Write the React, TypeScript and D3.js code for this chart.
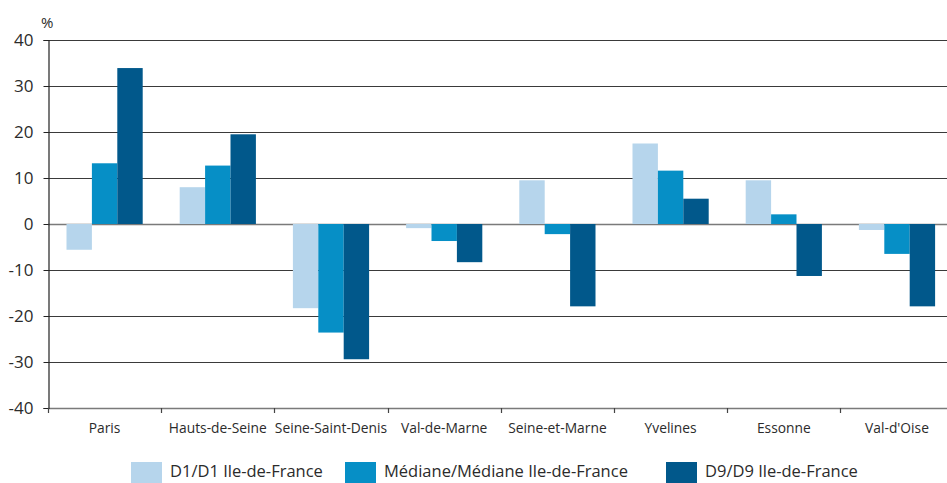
import { useEffect, useRef } from 'react';
import * as d3 from 'd3';

const categories = [
  'Paris',
  'Hauts-de-Seine',
  'Seine-Saint-Denis',
  'Val-de-Marne',
  'Seine-et-Marne',
  'Yvelines',
  'Essonne',
  "Val-d'Oise",
];
const seriesNames = ['D1/D1 Ile-de-France', 'Médiane/Médiane Ile-de-France', 'D9/D9 Ile-de-France'];
const d1Values = [-5.6, 8.0, -18.3, -0.9, 9.5, 17.5, 9.5, -1.3];
const medianValues = [13.2, 12.7, -23.6, -3.7, -2.2, 11.6, 2.1, -6.5];
const d9Values = [33.9, 19.5, -29.4, -8.3, -17.9, 5.5, -11.3, -17.9];
const yTicks = [-40, -30, -20, -10, 0, 10, 20, 30, 40];
const colors = ['#b6d5ec', '#068fc6', '#01588b'];

const WIDTH = 947;
const HEIGHT = 483;
const FONT = '"Open Sans", sans-serif';

export default function App() {
  const svgRef = useRef<SVGSVGElement>(null);

  useEffect(() => {
    if (!svgRef.current) return;
    const svg = d3.select(svgRef.current);
    svg.selectAll('*').remove();

    const left = 48;
    const right = 953.6; // plot runs past the picture edge
    const top = 40;
    const bottom = 408;

    const x = d3.scaleBand<string>().domain(categories).range([left, right]).padding(0);
    const bw = x.bandwidth();
    const xInner = d3
      .scaleBand<number>()
      .domain([0, 1, 2])
      .range([18.5, bw - 18.5])
      .padding(0);
    const y = d3.scaleLinear().domain([-40, 40]).range([bottom, top]);

    // gridlines
    svg
      .append('g')
      .selectAll('line')
      .data(yTicks)
      .join('line')
      .attr('x1', left)
      .attr('x2', WIDTH)
      .attr('y1', d => Math.round(y(d)) + 0.5)
      .attr('y2', d => Math.round(y(d)) + 0.5)
      .attr('stroke', d => (d === 0 || d === -40 ? '#7a7a7a' : '#3a3a3a'))
      .attr('stroke-width', d => (d === 0 || d === -40 ? 1.6 : 1.2));

    // bars
    const all = [d1Values, medianValues, d9Values];
    all.forEach((vals, si) => {
      svg
        .append('g')
        .selectAll('rect')
        .data(vals)
        .join('rect')
        .attr('x', (_, i) => (x(categories[i]) ?? 0) + (xInner(si) ?? 0))
        .attr('width', xInner.bandwidth())
        .attr('y', d => y(Math.max(0, d)))
        .attr('height', d => Math.abs(y(d) - y(0)))
        .attr('fill', colors[si]);
    });

    // y axis
    const yAxis = d3
      .axisLeft(y)
      .tickValues(yTicks)
      .tickSize(5)
      .tickPadding(10)
      .tickFormat(d => String(d));
    const ya = svg.append('g').attr('transform', `translate(${left + 0.5},0)`).call(yAxis);
    ya.select('.domain').attr('stroke', '#222').attr('stroke-width', 1.2);
    ya.selectAll('.tick line').attr('stroke', '#222');
    ya.selectAll('text')
      .style('font-family', FONT)
      .style('font-size', '17px')
      .style('fill', '#2b2b2b');

    // x axis ticks at category boundaries
    const boundaries = categories.map(c => x(c) ?? 0);
    svg
      .append('g')
      .selectAll('line')
      .data(boundaries)
      .join('line')
      .attr('x1', d => Math.round(d) + 0.5)
      .attr('x2', d => Math.round(d) + 0.5)
      .attr('y1', bottom)
      .attr('y2', bottom + 5)
      .attr('stroke', '#444')
      .attr('stroke-width', 1.2);

    svg
      .append('g')
      .selectAll('text')
      .data(categories)
      .join('text')
      .attr('x', d => (x(d) ?? 0) + bw / 2)
      .attr('y', 433)
      .attr('text-anchor', 'middle')
      .style('font-family', FONT)
      .style('font-size', '13.8px')
      .style('fill', '#2b2b2b')
      .text(d => d);

    // unit label
    svg
      .append('text')
      .attr('x', 41)
      .attr('y', 28)
      .style('font-family', FONT)
      .style('font-size', '15px')
      .style('fill', '#2b2b2b')
      .text('%');

    // legend
    const legendX = [131, 345, 666];
    const lg = svg
      .append('g')
      .selectAll('g')
      .data(seriesNames)
      .join('g')
      .attr('transform', (_, i) => `translate(${legendX[i]},462)`);
    lg.append('rect')
      .attr('width', 31)
      .attr('height', 21)
      .attr('fill', (_, i) => colors[i]);
    lg.append('text')
      .attr('x', 39)
      .attr('y', 15)
      .style('font-family', FONT)
      .style('font-size', '16.5px')
      .style('fill', '#2b2b2b')
      .text(d => d);
  }, []);

  return (
    <svg
      ref={svgRef}
      width={WIDTH}
      height={HEIGHT}
      style={{ position: 'absolute', left: 0, top: 0, background: '#fff' }}
    />
  );
}
